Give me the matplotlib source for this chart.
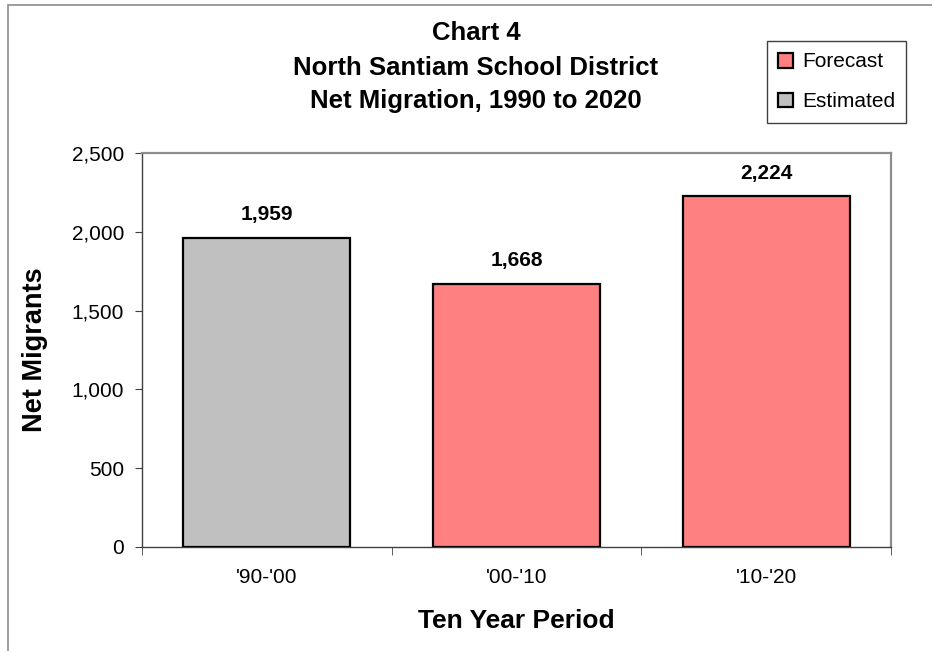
import matplotlib.pyplot as plt
import matplotlib.ticker as mticker
from matplotlib.patches import Patch, Rectangle

plt.rcParams['font.family'] = ['Liberation Sans', 'DejaVu Sans']

periods = ["'90-'00", "'00-'10", "'10-'20"]
migrants = [1959, 1668, 2224]
kinds = ['Estimated', 'Forecast', 'Forecast']
title_lines = ['Chart 4', 'North Santiam School District', 'Net Migration, 1990 to 2020']

kind_colors = {'Forecast': '#FF8080', 'Estimated': '#C0C0C0'}

fig = plt.figure(figsize=(9.32, 6.51), dpi=100)
ax = fig.add_axes([142/932, 1 - 547/651, (891 - 142)/932, (547 - 153)/651])

# outer chart-area border (gray)
fig.patches.append(Rectangle((8/932, -0.1), 1.5, 1 - 5/651 + 0.1,
                             transform=fig.transFigure, fill=False,
                             edgecolor='#8c8c8c', linewidth=1.2))

x = range(len(periods))
bars = ax.bar(x, migrants, width=0.67,
              color=[kind_colors[k] for k in kinds],
              edgecolor='black', linewidth=1.6, zorder=3)

for xi, v in zip(x, migrants):
    ax.annotate(f'{v:,}', (xi, v), xytext=(0, 10), textcoords='offset points',
                ha='center', va='bottom', fontsize=15, fontweight='bold')

ax.set_xlim(-0.5, len(periods) - 0.5)
ax.set_ylim(0, 2500)
ax.set_yticks(range(0, 2501, 500))
ax.yaxis.set_major_formatter(mticker.FuncFormatter(lambda v, p: f'{int(v):,}'))

ax.set_xticks(list(x))
ax.set_xticklabels(periods)
ax.set_xticks([i - 0.5 for i in range(len(periods) + 1)], minor=True)
ax.tick_params(axis='x', which='major', length=0, pad=15, labelsize=15)
ax.tick_params(axis='x', which='minor', length=6, direction='out', color='#404040')
ax.tick_params(axis='y', length=5, direction='out', pad=8, labelsize=15, color='#404040')

for s in ['left', 'bottom']:
    ax.spines[s].set_color('#404040')
    ax.spines[s].set_linewidth(1.0)
for s in ['top', 'right']:
    ax.spines[s].set_color('#8c8c8c')
    ax.spines[s].set_linewidth(1.6)

ax.set_ylabel('Net Migrants', fontsize=19.5, fontweight='bold', labelpad=17)
ax.set_xlabel('Ten Year Period', fontsize=19, fontweight='bold', labelpad=16)

# title, three lines
for yy, t in zip([33, 68, 101], title_lines):
    fig.text(476/932, 1 - yy/651, t, ha='center', va='center',
             fontsize=18.5, fontweight='bold')

handles = [Patch(facecolor=kind_colors[k], edgecolor='black', linewidth=1.6)
           for k in ['Forecast', 'Estimated']]
leg = ax.legend(handles, ['Forecast', 'Estimated'], loc='upper left',
                bbox_to_anchor=(767/932, 1 - 41/651), bbox_transform=fig.transFigure,
                borderaxespad=0, fontsize=15, handlelength=0.72, handleheight=0.72,
                handletextpad=0.4, labelspacing=1.0, borderpad=0.55,
                fancybox=False, framealpha=1)
leg.get_frame().set_edgecolor('#404040')
leg.get_frame().set_linewidth(1.0)

fig.savefig('out.png', dpi=100)
